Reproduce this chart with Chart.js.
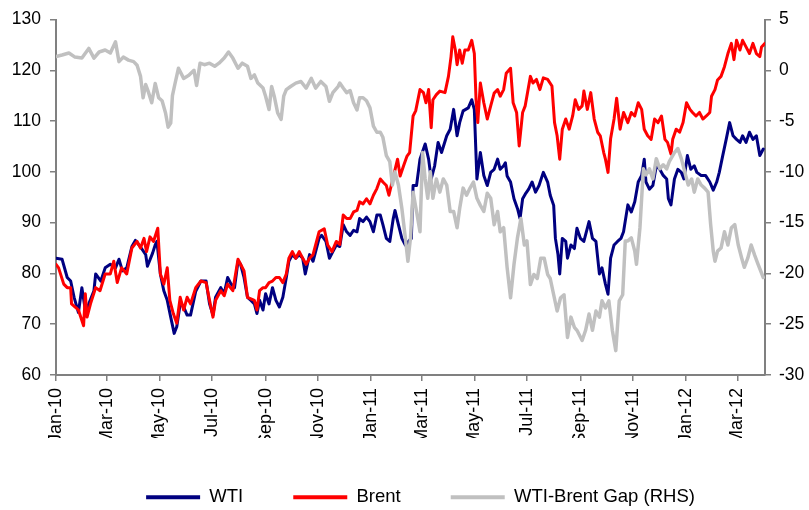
<!DOCTYPE html>
<html>
<head>
<meta charset="utf-8">
<script src="https://cdn.jsdelivr.net/npm/chart.js@4/dist/chart.umd.min.js"></script>
<style>
html,body{margin:0;padding:0;background:#fff;}
canvas{display:block;}
</style>
</head>
<body>
<canvas id="c" width="809" height="510"></canvas>
<script>
// x values are days since 1 Jan 2010
const xTickDays = [0, 59, 120, 181, 243, 304, 365, 424, 485, 546, 608, 669, 730, 790];
const xTickLabels = ["Jan-10","Mar-10","May-10","Jul-10","Sep-10","Nov-10","Jan-11","Mar-11","May-11","Jul-11","Sep-11","Nov-11","Jan-12","Mar-12"];

const wti = [
[0,83.0],[7,82.8],[13,79.2],[17,78.5],[21,75.3],[26,72.3],[30,77.2],[34,72.8],[38,74.0],[44,76.6],[46,79.9],[52,78.5],[57,81.1],[63,81.8],[69,81.1],[73,82.8],[77,80.5],[82,81.1],[88,85.3],[92,86.5],[98,85.2],[104,83.7],[106,81.4],[112,84.0],[115,85.6],[117,86.3],[121,79.9],[125,76.6],[129,74.7],[133,71.4],[137,68.2],[140,69.5],[144,74.0],[148,73.4],[152,71.8],[156,71.8],
[162,76.5],[168,78.5],[174,78.5],[178,74.0],[182,71.8],[185,75.3],[191,77.2],[195,76.0],[199,79.2],[203,77.9],[207,77.2],[211,82.4],[214,81.8],[218,79.2],[222,75.3],[226,74.7],[230,74.0],[233,72.1],[236,74.7],[240,72.8],[243,76.0],[247,74.0],[251,77.2],[255,74.7],[259,73.4],[263,75.3],[267,79.2],[270,82.4],[274,83.7],[278,83.0],[282,83.7],[286,83.0],[289,79.9],[294,83.7],[298,82.4],[301,84.3],[305,86.9],[308,87.5],[313,86.3],[317,83.0],[321,84.3],[325,85.6],
[329,85.3],[333,89.6],[337,88.2],[341,87.5],[345,88.5],[349,88.2],[352,90.8],[356,90.2],[360,91.1],[364,90.2],[368,88.2],[372,91.5],[376,91.5],[379,89.6],[383,86.9],[387,86.3],[391,90.8],[393,92.4],[397,89.6],[401,86.9],[405,85.6],[412,86.9],[414,97.3],[418,97.3],[422,102.5],[428,105.5],[432,102.5],[435,98.6],[439,101.2],[443,105.8],[447,103.8],[453,107.1],[457,108.4],[461,112.3],[465,107.1],[468,109.7],[472,112.0],[478,112.6],[482,114.2],[485,112.3],[488,98.6],[492,103.8],
[496,99.3],[500,97.3],[504,99.9],[508,100.5],[512,102.5],[515,100.5],[519,101.2],[521,101.8],[523,99.2],[527,98.0],[531,94.7],[535,92.8],[538,90.8],[541,94.7],[544,95.6],[548,96.6],[552,98.0],[556,96.0],[560,97.3],[565,99.9],[570,98.0],[573,95.4],[577,93.4],[579,86.9],[582,83.7],[584,79.9],[587,86.9],[591,86.3],[593,83.0],[597,85.6],[601,84.9],[604,88.9],[608,86.9],[612,86.3],[618,90.2],[622,86.9],[626,86.3],[630,79.9],[633,81.1],[637,77.9],[640,75.9],[643,83.0],[647,85.6],[651,86.3],[655,86.9],[658,88.2],
[663,93.5],[667,92.1],[671,94.1],[675,98.0],[679,99.3],[682,102.5],[684,98.0],[688,96.6],[692,97.3],[696,101.2],[700,100.5],[704,99.3],[708,98.6],[710,94.7],[713,93.5],[717,98.6],[721,100.5],[725,99.9],[728,98.6],[732,103.2],[736,100.5],[740,101.2],[743,99.9],[748,99.3],[753,99.3],[758,98.0],[762,96.4],[766,98.0],[769,99.9],[773,103.2],[777,106.4],[781,109.7],[785,107.1],[789,106.4],[793,105.8],[796,107.1],[800,105.8],[804,107.8],[808,106.4],[812,107.1],[816,103.2],[820,104.5]
];

const brent = [
[0,81.8],[3,81.1],[9,77.9],[13,77.2],[17,77.2],[18,74.0],[22,73.4],[26,72.8],[32,69.7],[34,76.0],[36,71.4],[40,74.0],[46,77.2],[51,76.6],[57,79.9],[63,79.9],[67,82.4],[71,78.2],[76,81.1],[82,79.9],[88,85.0],[94,86.3],[98,85.0],[102,86.9],[105,84.3],[109,87.2],[113,86.3],[118,88.9],[121,79.9],[125,77.9],[129,81.1],[132,74.7],[136,72.1],[140,70.2],[144,75.3],[148,72.8],[152,75.3],[156,74.0],
[162,77.2],[168,78.5],[174,78.2],[178,74.7],[182,71.4],[185,74.7],[191,76.6],[195,75.6],[199,77.9],[205,76.6],[211,82.8],[214,81.8],[218,80.5],[222,75.3],[226,75.0],[230,74.7],[233,72.8],[236,76.6],[240,77.2],[243,77.2],[247,78.2],[251,78.5],[255,79.2],[259,79.2],[263,78.2],[267,79.9],[270,83.0],[274,84.3],[278,83.0],[282,84.3],[286,83.0],[290,81.8],[294,83.0],[298,83.7],[301,85.6],[305,88.2],[311,88.8],[315,85.6],[320,84.3],[325,86.3],
[329,85.7],[333,91.5],[337,90.8],[341,90.8],[345,92.1],[349,92.4],[352,94.1],[356,93.7],[360,94.7],[364,93.7],[368,95.4],[372,96.7],[376,98.6],[379,98.0],[383,97.3],[386,95.4],[396,102.5],[399,99.2],[403,101.2],[407,103.1],[410,103.8],[414,111.0],[417,112.0],[422,116.2],[426,115.6],[429,113.6],[432,116.2],[435,108.7],[437,114.2],[441,115.2],[445,115.9],[451,115.6],[455,118.8],[458,122.7],[460,126.6],[463,124.0],[465,121.1],[468,124.0],[471,121.4],[474,124.0],[478,124.0],[482,125.9],[485,123.3],[487,114.2],[489,109.7],[492,117.5],
[496,113.6],[500,110.4],[504,113.0],[508,115.5],[512,116.2],[515,114.9],[519,116.2],[522,119.4],[527,120.4],[530,113.6],[534,111.7],[537,105.1],[541,111.7],[544,113.0],[550,118.8],[553,117.5],[557,118.2],[561,116.2],[565,118.5],[570,118.2],[575,116.9],[578,109.7],[581,107.1],[584,102.5],[587,108.4],[591,110.4],[595,108.4],[599,111.0],[602,114.2],[606,112.3],[610,113.0],[612,115.9],[616,112.3],[620,115.6],[624,110.4],[628,107.8],[631,107.1],[635,103.8],[637,102.5],[640,99.9],[643,106.5],[647,110.4],[650,114.5],[654,108.4],[658,111.7],
[663,109.7],[667,111.7],[671,111.0],[675,113.6],[679,112.3],[682,108.4],[686,107.1],[690,106.4],[694,110.4],[698,109.7],[702,111.0],[706,106.4],[709,105.8],[713,103.5],[715,106.4],[719,108.4],[723,107.8],[727,109.7],[731,113.6],[735,112.3],[738,111.7],[742,111.0],[746,111.7],[750,110.4],[754,111.0],[758,111.7],[760,114.9],[764,116.2],[767,118.1],[771,118.8],[775,120.7],[779,123.3],[783,125.3],[786,122.1],[789,125.9],[793,124.0],[796,125.9],[800,124.6],[804,123.3],[808,125.3],[812,123.3],[816,122.7],[818,124.6],[822,125.3]
];

const gap = [
[0,1.34],[7,1.5],[15,1.7],[22,1.3],[30,1.2],[38,2.15],[44,1.2],[50,1.8],[57,2.0],[63,1.7],[69,2.8],[73,0.85],[78,1.3],[84,1.0],[90,0.85],[94,0.5],[98,-0.6],[101,-2.7],[104,-1.4],[107,-2.1],[111,-3.2],[115,-1.3],[119,-2.7],[123,-3.0],[127,-4.2],[130,-5.6],[133,-5.2],[135,-2.5],[138,-1.3],[142,0.2],[148,-0.8],[154,-0.5],[160,0.0],
[163,-1.5],[167,0.7],[172,0.55],[178,0.7],[184,0.4],[189,0.7],[195,1.2],[200,1.8],[205,1.2],[211,0.2],[216,0.7],[222,0.4],[226,-0.8],[230,-0.45],[234,-1.26],[240,-1.75],[243,-2.55],[247,-3.86],[250,-1.6],[253,-2.55],[257,-4.2],[261,-4.83],[264,-2.55],[267,-1.9],[272,-1.6],[278,-1.26],[284,-1.1],[290,-1.75],[296,-0.8],[301,-1.75],[307,-1.1],[313,-1.6],[317,-3.05],[321,-2.2],[327,-1.6],
[329,-1.26],[333,-1.75],[337,-2.2],[341,-2.0],[345,-3.2],[349,-3.9],[352,-2.7],[356,-2.7],[360,-3.0],[364,-3.7],[368,-5.5],[372,-6.1],[376,-6.1],[379,-6.6],[383,-8.4],[387,-9.0],[390,-11.3],[393,-10.0],[397,-11.3],[401,-13.6],[405,-16.5],[408,-18.8],[411,-16.5],[414,-12.0],[418,-13.9],[422,-15.9],[425,-8.1],[428,-10.7],[431,-12.6],[434,-10.0],[437,-12.6],[441,-10.7],[445,-12.0],[449,-10.7],[453,-11.3],[457,-13.9],[461,-13.9],[465,-15.5],[468,-13.6],[472,-11.6],[476,-12.3],[480,-11.6],[484,-11.0],[488,-12.6],[492,-13.3],
[496,-13.9],[500,-12.1],[504,-12.6],[508,-15.2],[512,-13.9],[515,-15.9],[519,-15.5],[523,-19.4],[527,-22.4],[531,-19.1],[535,-16.5],[539,-14.6],[543,-17.2],[546,-16.8],[550,-21.1],[554,-20.1],[558,-20.5],[562,-18.5],[566,-18.5],[570,-20.1],[573,-20.5],[577,-22.1],[581,-23.7],[585,-22.4],[589,-22.1],[593,-26.3],[597,-24.3],[601,-25.3],[604,-25.6],[610,-26.6],[614,-25.6],[618,-24.0],[622,-25.6],[626,-23.7],[630,-24.3],[633,-22.7],[637,-23.4],[641,-22.7],[645,-25.6],[649,-27.6],[653,-22.7],[657,-22.1],[660,-16.8],
[663,-16.8],[667,-16.5],[671,-17.8],[673,-19.1],[677,-15.5],[681,-9.7],[684,-10.3],[688,-9.7],[692,-10.7],[696,-8.7],[700,-9.7],[704,-9.3],[708,-9.7],[711,-9.0],[717,-8.1],[721,-7.7],[725,-8.7],[729,-10.0],[733,-11.3],[737,-10.7],[740,-12.0],[744,-10.7],[748,-11.3],[752,-11.6],[756,-12.0],[759,-15.2],[762,-17.8],[764,-18.8],[767,-17.8],[771,-17.5],[775,-15.9],[779,-17.2],[783,-15.5],[787,-15.2],[791,-17.2],[795,-18.5],[798,-19.4],[802,-18.5],[806,-17.2],[810,-18.2],[814,-19.1],[820,-20.4]
];

const FONT = "'Liberation Sans', Arial, Helvetica, sans-serif";
const AXIS_GREY = '#808080';
const toPts = arr => arr.map(p => ({x: p[0], y: p[1]}));

const legendShift = {
  id: 'legendShift',
  afterLayout(chart) {
    if (chart.legend) { chart.legend.left += 16; chart.legend.right += 16; }
  }
};

new Chart(document.getElementById('c'), {
  type: 'line',
  data: {
    datasets: [
      {label: 'WTI', data: toPts(wti), yAxisID: 'y', borderColor: '#000080', backgroundColor: '#000080', borderWidth: 3, order: 2},
      {label: 'Brent', data: toPts(brent), yAxisID: 'y', borderColor: '#FF0000', backgroundColor: '#FF0000', borderWidth: 3, order: 1},
      {label: 'WTI-Brent Gap (RHS)', data: toPts(gap), yAxisID: 'y2', borderColor: '#C0C0C0', backgroundColor: '#C0C0C0', borderWidth: 3.5, order: 0}
    ]
  },
  options: {
    responsive: false,
    animation: false,
    events: [],
    parsing: false,
    elements: {
      point: {radius: 0},
      line: {tension: 0, borderJoinStyle: 'round', borderCapStyle: 'round', fill: false}
    },
    layout: {padding: {top: 15.7, left: 0, right: 0, bottom: 0}},
    scales: {
      x: {
        type: 'linear',
        min: 0,
        max: 822,
        afterBuildTicks: (scale) => { scale.ticks = xTickDays.map(v => ({value: v})); },
        afterFit: (scale) => { scale.height = 63; },
        ticks: {
          autoSkip: false,
          minRotation: 90,
          maxRotation: 90,
          padding: 7,
          color: '#000',
          font: {family: FONT, size: 18},
          callback: (value, index) => xTickLabels[index]
        },
        grid: {drawOnChartArea: false, drawTicks: true, tickLength: 6, color: AXIS_GREY, lineWidth: 1.5},
        border: {color: AXIS_GREY, width: 2}
      },
      y: {
        position: 'left',
        min: 60,
        max: 130,
        afterFit: (scale) => { scale.width = 56; },
        ticks: {stepSize: 10, padding: 9, color: '#000', font: {family: FONT, size: 17.5}},
        grid: {drawOnChartArea: false, drawTicks: true, tickLength: 6, color: AXIS_GREY, lineWidth: 1.5},
        border: {color: AXIS_GREY, width: 2}
      },
      y2: {
        position: 'right',
        min: -30,
        max: 5,
        afterFit: (scale) => { scale.width = 44; },
        ticks: {stepSize: 5, padding: 8, color: '#000', font: {family: FONT, size: 17.5}},
        grid: {drawOnChartArea: false, drawTicks: true, tickLength: 6, color: AXIS_GREY, lineWidth: 1.5},
        border: {color: AXIS_GREY, width: 2}
      }
    },
    plugins: {
      tooltip: {enabled: false},
      legend: {
        position: 'bottom',
        maxHeight: 72,
        labels: {
          boxWidth: 54,
          boxHeight: 4,
          padding: 50,
          color: '#000',
          font: {family: FONT, size: 18.5},
          sort: (a, b) => a.datasetIndex - b.datasetIndex,
          generateLabels: (chart) => Chart.defaults.plugins.legend.labels.generateLabels(chart).map(l => Object.assign(l, {lineWidth: 0}))
        }
      }
    }
  },
  plugins: [legendShift]
});
</script>
</body>
</html>
